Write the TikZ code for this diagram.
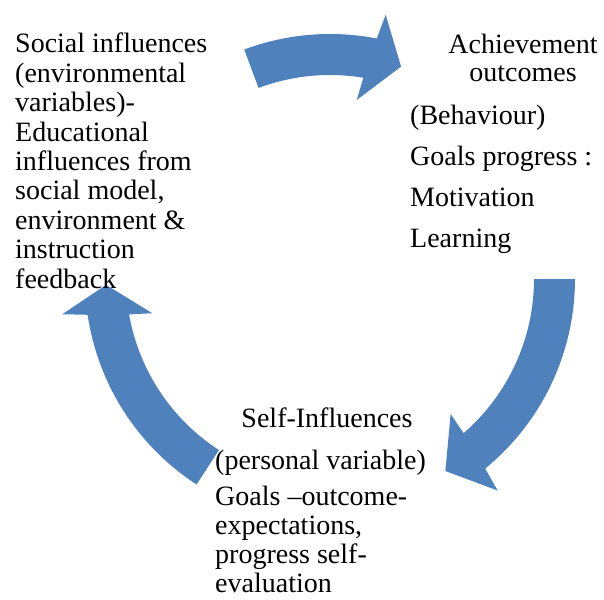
\documentclass[tikz,border=0pt]{standalone}
\usepackage{fontspec}
\setmainfont{Liberation Serif}
\definecolor{cycleblue}{RGB}{79,129,189}

\begin{document}
\begin{tikzpicture}[
  x=1pt, y=1pt,
  txt/.style={inner sep=0pt, align=left, font=\fontsize{28}{29.4}\selectfont},
  wide/.style={font=\fontsize{28}{40.7}\selectfont},
  cyclearrow/.style={fill=cycleblue}
]
\useasboundingbox (0,0) rectangle (604,-599);
% circular arrows round one centre
\begin{scope}[shift={(330,-279)}]
\foreach \tail/\base/\tip in {110.5/79.8/71.5, 0/-49.9/-59, 237/189.2/181.5}
  \fill[cyclearrow] (\tail:245pt) arc[start angle=\tail, end angle={\base-0.8}, radius=245pt]
    -- ({\base-1.7}:270pt) -- (\tip:224pt) -- ({\base+1.7}:181pt)
    -- ({\base+0.8}:204pt) arc[start angle={\base+0.8}, end angle=\tail, radius=204pt] -- cycle;
\end{scope}
% texts (base anchor = last line)
\node[txt, anchor=base west] (social) at (15,-288) {Social influences\\(environmental\\variables)-\\Educational\\influences from\\social model,\\environment \&\\instruction\\feedback};
\node[txt, align=center, anchor=base, font=\fontsize{28}{28.5}\selectfont] (achieve) at (523,-82) {Achievement\\outcomes};
\node[txt, wide, anchor=base west] (behav) at (410,-247) {(Behaviour)\\Goals progress :\\Motivation\\Learning};
\node[txt, anchor=base] (self) at (327,-427) {Self-Influences};
\node[txt, anchor=base west] (personal) at (215,-469) {(personal variable)};
\node[txt, anchor=base west, font=\fontsize{28}{29}\selectfont] (goals) at (215,-592) {Goals –outcome-\\expectations,\\progress self-\\evaluation};
\end{tikzpicture}
\end{document}
